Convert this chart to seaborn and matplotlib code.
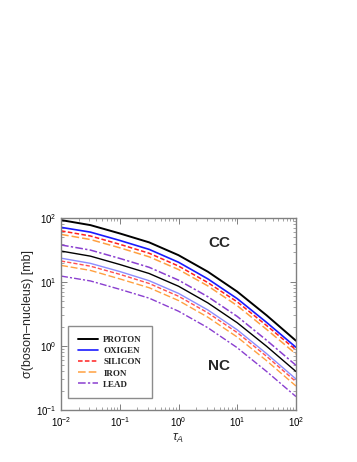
import numpy as np
import pandas as pd
import matplotlib
matplotlib.use("Agg")
import matplotlib.pyplot as plt
import seaborn as sns
from matplotlib.ticker import LogLocator, NullFormatter

# tau_A sample points (half decades)
tau = [0.01, 0.0316, 0.1, 0.316, 1.0, 3.16, 10.0, 31.6, 100.0]

# charged current cross sections [mb]
cc_proton = [93, 77.6, 57.5, 41.7, 26.3, 14.5, 7.08, 3.02, 1.21]
cc_oxygen = [71.6, 60.3, 44.7, 32.4, 20.4, 11.2, 5.5, 2.34, 0.955]
cc_silicon = [63.1, 52.5, 38.9, 28.2, 17.8, 9.8, 4.9, 2.09, 0.87]
cc_iron = [55.6, 46.2, 34.3, 24.8, 15.7, 8.7, 4.27, 1.82, 0.75]
cc_lead = [38.0, 31.6, 23.4, 17.0, 10.7, 5.9, 2.9, 1.23, 0.50]

# neutral current cross sections [mb]
nc_proton = [30.5, 25.4, 18.8, 13.6, 8.6, 4.72, 2.31, 0.99, 0.40]
nc_oxygen = [23.6, 19.6, 14.6, 10.5, 6.65, 3.66, 1.79, 0.76, 0.305]
nc_silicon = [21.3, 17.7, 13.2, 9.5, 6.0, 3.3, 1.62, 0.69, 0.277]
nc_iron = [18.2, 15.2, 11.2, 8.15, 5.14, 2.82, 1.38, 0.59, 0.237]
nc_lead = [12.4, 10.4, 7.7, 5.6, 3.5, 1.93, 0.94, 0.40, 0.162]

labels = ["PROTON", "OXIGEN", "SILICON", "IRON", "LEAD"]
cc_all = [cc_proton, cc_oxygen, cc_silicon, cc_iron, cc_lead]
nc_all = [nc_proton, nc_oxygen, nc_silicon, nc_iron, nc_lead]

sns.set_style("ticks")
plt.rcParams["font.family"] = ["Liberation Sans", "DejaVu Sans"]
plt.rcParams["mathtext.fontset"] = "custom"
plt.rcParams["mathtext.rm"] = "Liberation Sans"
plt.rcParams["mathtext.it"] = "Liberation Sans:italic"

cc_colors = ["black", "#1a1aff", "#ff2020", "#ffa040", "#8a3fd0"]
nc_colors = ["black", "#8c8cff", "#ff5050", "#ffa040", "#8a3fd0"]
styles = ["-", "-", (0, (3, 1.5)), (0, (5, 2)), (0, (5, 1.5, 1.5, 1.5))]
cc_widths = [1.4, 1.2, 1.1, 1.1, 1.1]
nc_widths = [1.0, 1.0, 1.0, 1.0, 1.0]

fig = plt.figure(figsize=(3.57, 4.62), dpi=100)
ax = fig.add_axes([0.171, 0.1126, 0.658, 0.4154])

for i in range(5):
    sns.lineplot(x=tau, y=cc_all[i], ax=ax, color=cc_colors[i], linestyle=styles[i],
                 linewidth=cc_widths[i], label=labels[i])
    sns.lineplot(x=tau, y=nc_all[i], ax=ax, color=nc_colors[i], linestyle=styles[i],
                 linewidth=nc_widths[i], label="_nolegend_")

ax.set_xscale("log")
ax.set_yscale("log")
ax.set_xlim(0.01, 100)
ax.set_ylim(0.1, 100)
ax.xaxis.set_major_locator(LogLocator(base=10, numticks=10))
ax.yaxis.set_major_locator(LogLocator(base=10, numticks=10))
ax.xaxis.set_minor_locator(LogLocator(base=10, subs=np.arange(2, 10), numticks=20))
ax.yaxis.set_minor_locator(LogLocator(base=10, subs=np.arange(2, 10), numticks=20))
ax.xaxis.set_minor_formatter(NullFormatter())
ax.yaxis.set_minor_formatter(NullFormatter())

for s in ax.spines.values():
    s.set_color("#808080")
    s.set_linewidth(1.0)
ax.tick_params(which="both", direction="in", top=True, right=True, colors="#808080",
               labelcolor="black", labelsize=7)
ax.tick_params(axis="x", pad=4)
ax.tick_params(axis="y", pad=3)
ax.tick_params(which="major", length=4, width=0.7)
ax.tick_params(which="minor", length=2, width=0.5)

ax.set_xlabel(r"$\tau_A$", fontsize=9, labelpad=2)
ax.set_ylabel("σ(boson–nucleus) [mb]", fontsize=9, labelpad=2)

ax.text(7.6, 41, "CC", fontsize=11, fontweight="bold", ha="right", va="center")
ax.text(7.6, 0.49, "NC", fontsize=11, fontweight="bold", ha="right", va="center")

leg = ax.legend(loc="lower left", bbox_to_anchor=(0.03, 0.06), fancybox=False,
                frameon=True, borderpad=1.1, labelspacing=0.3, handlelength=2.2,
                handletextpad=0.6, borderaxespad=0,
                prop={"family": "Liberation Serif", "weight": "bold", "size": 6.5})
leg.get_frame().set_edgecolor("#707070")
leg.get_frame().set_linewidth(1.0)

fig.savefig("out.png", dpi=100)
